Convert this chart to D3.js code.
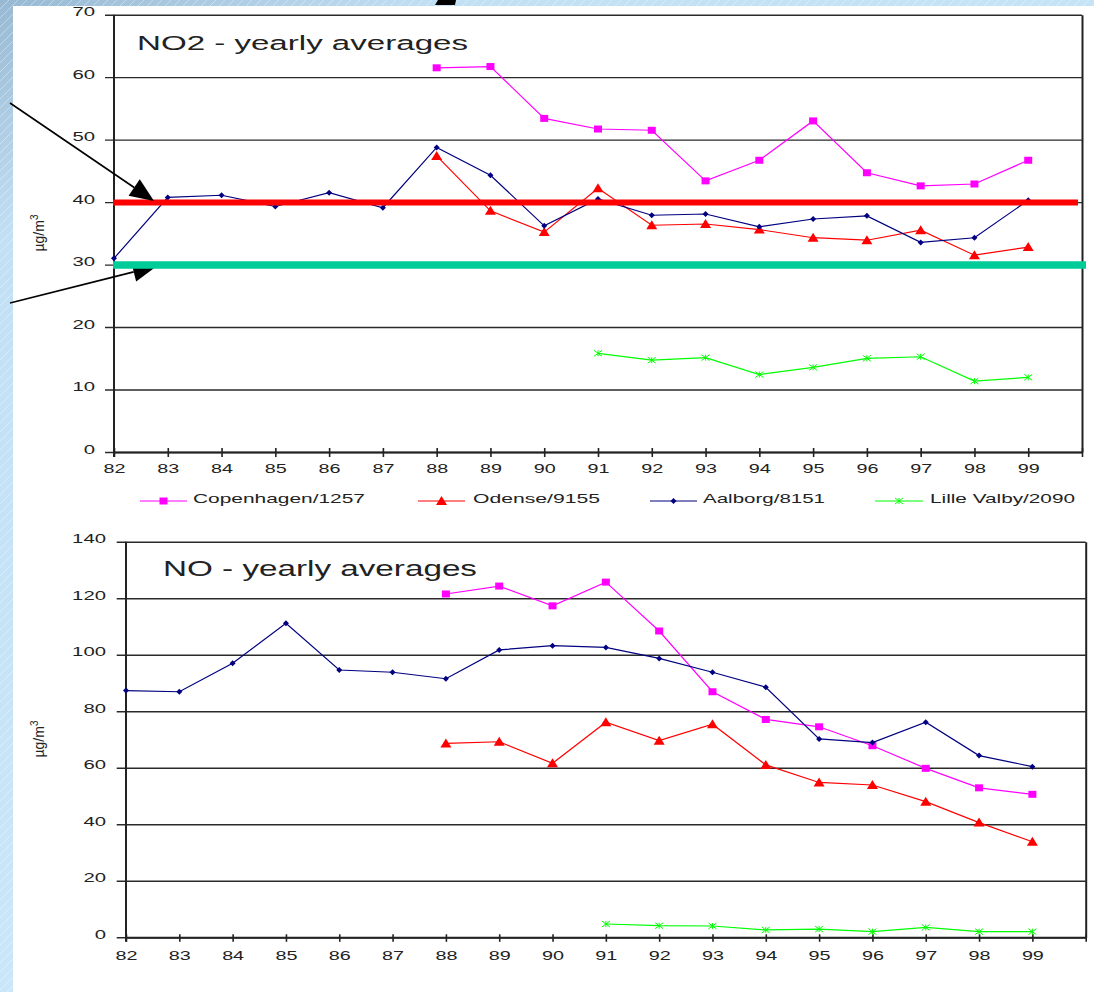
<!DOCTYPE html>
<html><head><meta charset="utf-8">
<script src="https://cdn.jsdelivr.net/npm/d3@7"></script>
<style>body{margin:0;background:#fff;} svg{display:block;}</style>
</head><body>
<svg id="c" width="1094" height="992"></svg>
<script>
// ---------- DATA ----------
const years = [82,83,84,85,86,87,88,89,90,91,92,93,94,95,96,97,98,99];
const xTickValues = [82,83,84,85,86,87,88,89,90,91,92,93,94,95,96,97,98,99,100];
const seriesNames = ["Copenhagen/1257","Odense/9155","Aalborg/8151","Lille Valby/2090"];

const copenNO2  = [null,null,null,null,null,null,61.5,61.7,53.4,51.7,51.5,43.4,46.7,53.0,44.7,42.6,42.9,46.7];
const odenseNO2 = [null,null,null,null,null,null,47.4,38.6,35.2,42.2,36.3,36.5,35.6,34.3,33.9,35.5,31.5,32.8];
const aalborgNO2= [31.0,40.75,41.1,39.3,41.5,39.1,48.75,44.3,36.2,40.5,37.9,38.1,36.05,37.3,37.8,33.55,34.3,40.3];
const lilleNO2  = [null,null,null,null,null,null,null,null,null,15.8,14.7,15.1,12.4,13.55,15.0,15.25,11.35,11.95];

const copenNO   = [null,null,null,null,null,null,121.5,124.3,117.3,125.7,108.4,86.9,77.1,74.5,67.8,59.8,52.9,50.6];
const odenseNO  = [null,null,null,null,null,null,68.6,69.2,61.6,76.1,69.6,75.4,61.0,54.8,53.9,48.0,40.6,33.8];
const aalborgNO = [87.3,86.9,97.0,111.1,94.6,93.8,91.5,101.7,103.2,102.6,98.7,93.8,88.5,70.2,68.9,76.1,64.3,60.4];
const lilleNO   = [null,null,null,null,null,null,null,null,null,4.7,4.1,4.0,2.6,2.9,2.0,3.5,2.0,2.0];

const no2Ticks = [0,10,20,30,40,50,60,70];
const noTicks  = [0,20,40,60,80,100,120,140];
const limitRed = 40;
const limitGreen = 30;

// ---------- STYLE ----------
const FONT = "'Liberation Sans', Arial, Helvetica, sans-serif";
const colors = ["#ff00ff","#ff0000","#000080","#00ff00"];
const shapes = ["square","triangle","diamond","x"];
const STRETCH = "spacingAndGlyphs";

const svg = d3.select("#c");
const defs = svg.append("defs");
const grad = defs.append("linearGradient").attr("id","bg")
  .attr("x1","0").attr("y1","0").attr("x2","0.6").attr("y2","1");
grad.append("stop").attr("offset","0").attr("stop-color","#98b9d3");
grad.append("stop").attr("offset","0.18").attr("stop-color","#c2e0f4");
grad.append("stop").attr("offset","1").attr("stop-color","#cdeafb");
const pat = defs.append("pattern").attr("id","hatch").attr("width",9).attr("height",9)
  .attr("patternUnits","userSpaceOnUse");
pat.append("path").attr("d","M0,9L9,0").attr("stroke","#ffffff")
  .attr("stroke-opacity",0.45).attr("stroke-width",0.8);

svg.append("rect").attr("width",1094).attr("height",992).attr("fill","url(#bg)");
svg.append("rect").attr("width",1094).attr("height",992).attr("fill","url(#hatch)");
svg.append("rect").attr("x",13).attr("y",6).attr("width",1081).attr("height",986).attr("fill","#fff");
// fragment of slide title above the chart
svg.append("path").attr("d","M438,0 L456,0 L455,5 L435,5 Z").attr("fill","#000");

function marker(sel, shape, color, cx, cy) {
  if (shape === "square") {
    sel.append("rect").attr("x",cx-4).attr("y",cy-3.5).attr("width",8).attr("height",7).attr("fill",color);
  } else if (shape === "triangle") {
    sel.append("path").attr("d",`M${cx},${cy-5}L${cx+5.5},${cy+4}L${cx-5.5},${cy+4}Z`).attr("fill",color);
  } else if (shape === "diamond") {
    sel.append("path").attr("d",`M${cx},${cy-3}L${cx+3},${cy}L${cx},${cy+3}L${cx-3},${cy}Z`).attr("fill",color);
  } else {
    sel.append("path").attr("d",`M${cx-4},${cy-3}L${cx+4},${cy+3}M${cx-4},${cy+3}L${cx+4},${cy-3}M${cx},${cy-3}L${cx},${cy+3}`)
      .attr("stroke",color).attr("stroke-width",1).attr("fill","none");
  }
}

function chart(cfg) {
  const x = d3.scaleLinear().domain([82,100]).range([cfg.left, cfg.right]);
  const y = d3.scaleLinear().domain([0, cfg.ymax]).range([cfg.bottom, cfg.top]);
  const g = svg.append("g");

  const gs = cfg.right - cfg.gridStart;
  const ya = g.append("g").attr("transform",`translate(${cfg.right},0)`)
    .call(d3.axisLeft(y).tickValues(cfg.yTicks).tickSize(gs).tickSizeOuter(0)
      .tickPadding(cfg.gridStart - cfg.labelRight));
  ya.select(".domain").attr("stroke","#222").attr("stroke-width",2);
  ya.selectAll(".tick line").attr("stroke","#2a2a2a").attr("stroke-width",1.4);
  ya.selectAll(".tick text").attr("font-family",FONT).attr("font-size",13).attr("fill","#222")
    .attr("y",-3)
    .each(function(d){ const s=String(d); d3.select(this).attr("textLength", s.length*11.3).attr("lengthAdjust",STRETCH); });

  const xa = g.append("g").attr("transform",`translate(0,${cfg.bottom})`)
    .call(d3.axisBottom(x).tickValues(xTickValues).tickSize(cfg.tickDown).tickSizeOuter(0)
      .tickPadding(cfg.xPad).tickFormat(d => d < 100 ? String(d) : ""));
  xa.select(".domain").attr("stroke","#222").attr("stroke-width",2);
  xa.selectAll(".tick line").attr("y1",-cfg.tickUp).attr("stroke","#222").attr("stroke-width",1.6);
  xa.selectAll(".tick text").filter(d => d < 100).attr("font-family",FONT).attr("font-size",13.5).attr("fill","#222")
    .attr("textLength",22).attr("lengthAdjust",STRETCH);

  g.append("line").attr("x1",cfg.left).attr("x2",cfg.left).attr("y1",cfg.top).attr("y2",cfg.bottom+cfg.tickDown)
    .attr("stroke","#222").attr("stroke-width",2);

  const yt = g.append("text").attr("transform",`translate(${cfg.yLabelX},${cfg.yLabelY}) rotate(-90)`)
    .attr("text-anchor","middle").attr("font-family",FONT).attr("font-size",14).attr("fill","#222");
  yt.append("tspan").text("µg/m");
  yt.append("tspan").attr("font-size",10).attr("dy",-6).text("3");

  g.append("text").attr("x",cfg.titleX).attr("y",cfg.titleY).attr("font-family",FONT)
    .attr("font-size",cfg.titleSize).attr("fill","#222").attr("textLength",cfg.titleLen)
    .attr("lengthAdjust",STRETCH).text(cfg.title);

  const line = d3.line().defined(d => d.v !== null).x(d => x(d.yr)).y(d => y(d.v));
  cfg.series.forEach((vals, i) => {
    const pts = years.map((yr, k) => ({yr, v: vals[k]}));
    g.append("path").datum(pts).attr("d", line).attr("fill","none")
      .attr("stroke", colors[i]).attr("stroke-width",1.2);
    const mg = g.append("g");
    pts.filter(d => d.v !== null).forEach(d => marker(mg, shapes[i], colors[i], x(d.yr), y(d.v)));
  });
  return {x, y, g};
}

const topChart = chart({
  left:114, right:1082, top:14.7, bottom:452, ymax:70, yTicks:no2Ticks,
  gridStart:105, labelRight:95, tickDown:5, tickUp:4, xPad:6,
  yLabelX:44, yLabelY:233, title:"NO2 - yearly averages", titleX:137, titleY:50,
  titleSize:20.5, titleLen:331,
  series:[copenNO2, odenseNO2, aalborgNO2, lilleNO2]
});

const botChart = chart({
  left:126, right:1085.7, top:541.7, bottom:937.3, ymax:140, yTicks:noTicks,
  gridStart:116.7, labelRight:106, tickDown:4.5, tickUp:3, xPad:9,
  yLabelX:44, yLabelY:739, title:"NO - yearly averages", titleX:163, titleY:576,
  titleSize:22, titleLen:314,
  series:[copenNO, odenseNO, aalborgNO, lilleNO]
});

// legend (top chart)
const legendItems = [
  {x1:140, x2:187, tx:193, tl:172},
  {x1:418, x2:465, tx:473, tl:127},
  {x1:650, x2:697, tx:703, tl:122},
  {x1:875, x2:923, tx:930, tl:145}
];
const lg = svg.append("g");
legendItems.forEach((it, i) => {
  lg.append("line").attr("x1",it.x1).attr("x2",it.x2).attr("y1",501).attr("y2",501)
    .attr("stroke",colors[i]).attr("stroke-width",1.2);
  marker(lg, shapes[i], colors[i], (it.x1+it.x2)/2, 501);
  lg.append("text").attr("x",it.tx).attr("y",502.7).attr("font-family",FONT).attr("font-size",13)
    .attr("fill","#222").attr("textLength",it.tl).attr("lengthAdjust",STRETCH).text(seriesNames[i]);
});

// annotation lines (limit values) and arrows on top
const ann = svg.append("g");
ann.append("line").attr("x1",113).attr("x2",1078).attr("y1",topChart.y(limitRed)+0.5).attr("y2",topChart.y(limitRed)+0.5)
  .attr("stroke","#ff0000").attr("stroke-width",6);
function arrow(x0,y0,tx,ty) {
  const dx = tx-x0, dy = ty-y0, L = Math.hypot(dx,dy), ux = dx/L, uy = dy/L;
  const bx = tx-24*ux, by = ty-24*uy, px = -uy, py = ux;
  ann.append("line").attr("x1",x0).attr("y1",y0).attr("x2",bx).attr("y2",by)
    .attr("stroke","#000").attr("stroke-width",1.6);
  ann.append("path").attr("d",`M${tx},${ty}L${bx+10*px},${by+10*py}L${bx-10*px},${by-10*py}Z`).attr("fill","#000");
}
arrow(10,103,154,201);
arrow(10,303,157,266);
ann.append("line").attr("x1",113).attr("x2",1086).attr("y1",topChart.y(limitGreen)+0.3).attr("y2",topChart.y(limitGreen)+0.3)
  .attr("stroke","#00cc99").attr("stroke-width",7.5);
</script>
</body></html>
